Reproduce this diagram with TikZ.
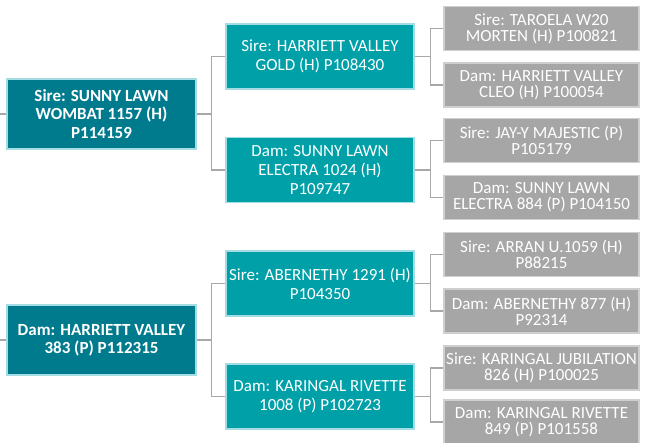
\documentclass[tikz,border=0pt]{standalone}
\usepackage{fontspec}
\setmainfont{Carlito}
\definecolor{tealdark}{HTML}{007B8E}
\definecolor{tealmid}{HTML}{00A0A8}
\definecolor{tealedge}{HTML}{A3DCE3}
\definecolor{greybox}{HTML}{A6A6A6}
\definecolor{greyedge}{HTML}{CFCFCF}
\definecolor{linkgrey}{HTML}{A8A8A8}
\begin{document}
\begin{tikzpicture}[x=1pt,y=1pt,
  base/.style={rectangle, inner sep=0pt, align=center, text=white, line width=1.1pt},
  lvlone/.style={base, fill=tealdark, draw=tealedge, minimum width=189pt, minimum height=70pt,
    font=\bfseries\fontsize{17}{18.3}\selectfont},
  lvltwo/.style={base, fill=tealmid, draw=tealedge, minimum width=188pt, minimum height=65pt,
    font=\fontsize{17}{19}\selectfont},
  lvlthree/.style={base, fill=greybox, draw=greyedge, minimum width=195pt, minimum height=44pt,
    font=\fontsize{17}{16}\selectfont},
  link/.style={draw=linkgrey, line width=1.1pt}
]
\useasboundingbox (0,0) rectangle (645,-443);

\coordinate (s1) at (0,-114);
\coordinate (s2) at (0,-340);

\node[lvlone] (A) at (101.5,-114) {Sire: SUNNY LAWN\\WOMBAT 1157 (H)\\P114159};
\node[lvlone] (B) at (101.5,-340) {Dam: HARRIETT VALLEY\\383 (P) P112315};

\node[lvltwo] (A1) at (320,-56.5) {Sire: HARRIETT VALLEY\\GOLD (H) P108430};
\node[lvltwo] (A2) at (320,-170) {Dam: SUNNY LAWN\\ELECTRA 1024 (H)\\P109747};
\node[lvltwo] (B1) at (320,-283.5) {Sire: ABERNETHY 1291 (H)\\P104350};
\node[lvltwo] (B2) at (320,-396.5) {Dam: KARINGAL RIVETTE\\1008 (P) P102723};

\node[lvlthree] (A11) at (541.5,-28.5) {Sire: TAROELA W20\\MORTEN (H) P100821};
\node[lvlthree] (A12) at (541.5,-85) {Dam: HARRIETT VALLEY\\CLEO (H) P100054};
\node[lvlthree] (A21) at (541.5,-140.5) {Sire: JAY-Y MAJESTIC (P)\\P105179};
\node[lvlthree] (A22) at (541.5,-197.5) {Dam: SUNNY LAWN\\ELECTRA 884 (P) P104150};
\node[lvlthree] (B11) at (541.5,-254.5) {Sire: ARRAN U.1059 (H)\\P88215};
\node[lvlthree] (B12) at (541.5,-311) {Dam: ABERNETHY 877 (H)\\P92314};
\node[lvlthree] (B21) at (541.5,-368) {Sire: KARINGAL JUBILATION\\826 (H) P100025};
\node[lvlthree] (B22) at (541.5,-422) {Dam: KARINGAL RIVETTE\\849 (P) P101558};

\draw[link] (s1) -- (A.west);
\draw[link] (s2) -- (B.west);

\foreach \p/\c in {A/A1, A/A2, B/B1, B/B2}{
  \draw[link] (\p.east) -- ++(15,0) |- (\c.west);
}
\foreach \p/\c in {A1/A11, A1/A12, A2/A21, A2/A22, B1/B11, B1/B12, B2/B21, B2/B22}{
  \draw[link] (\p.east) -- ++(15.5,0) |- (\c.west);
}
\end{tikzpicture}
\end{document}
